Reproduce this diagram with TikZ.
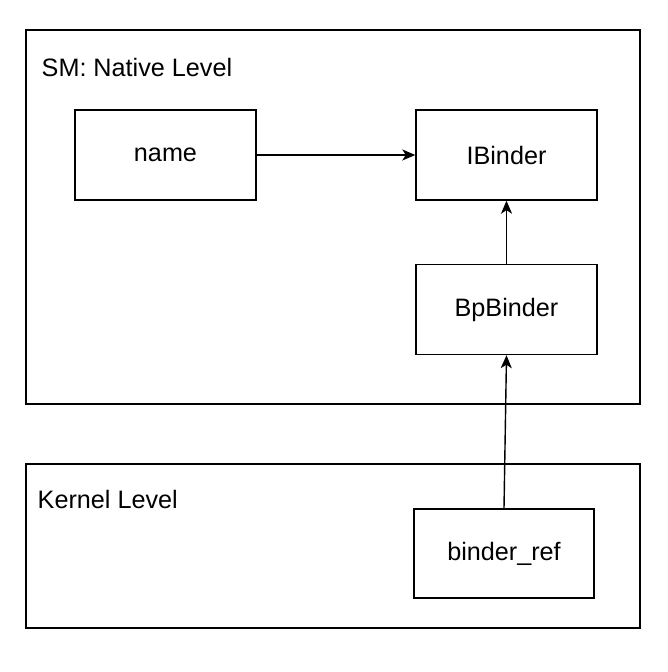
\documentclass[tikz,border=0pt]{standalone}
\usepackage{fontspec}
\setmainfont{Liberation Sans}
\usetikzlibrary{arrows.meta}

\begin{document}
\begin{tikzpicture}[x=1pt, y=1pt, draw=black, line width=1.4pt,
  font=\fontsize{25.2}{30}\selectfont,
  objbox/.style={draw, minimum width=181pt, minimum height=90pt, inner sep=0pt},
  levellabel/.style={anchor=west, inner sep=0pt},
  link/.style={-{Stealth[length=13pt, width=11pt, inset=3.5pt]}}]

\useasboundingbox (0,0) rectangle (668,672);

% levels
\draw (26,268) rectangle (640,642);
\node[levellabel] (smlabel) at (41,604) {SM: Native Level};

\draw (26,44) rectangle (640,208);
\node[levellabel] (kernlabel) at (37,173) {Kernel Level};

% objects
\node[objbox] (name) at (165.5,517) {name};
\node[objbox] (ibinder) at (506.5,517) {IBinder};
\node[objbox] (bpbinder) at (506.5,362.5) {BpBinder};
\node[objbox, minimum width=180pt, minimum height=89pt] (binderref) at (504,118.5) {binder\_ref};

\draw [link] (name) -- (ibinder);
\draw [link] (bpbinder) -- (ibinder);
\draw [link] (binderref.north) -- (bpbinder.south);
\end{tikzpicture}
\end{document}
